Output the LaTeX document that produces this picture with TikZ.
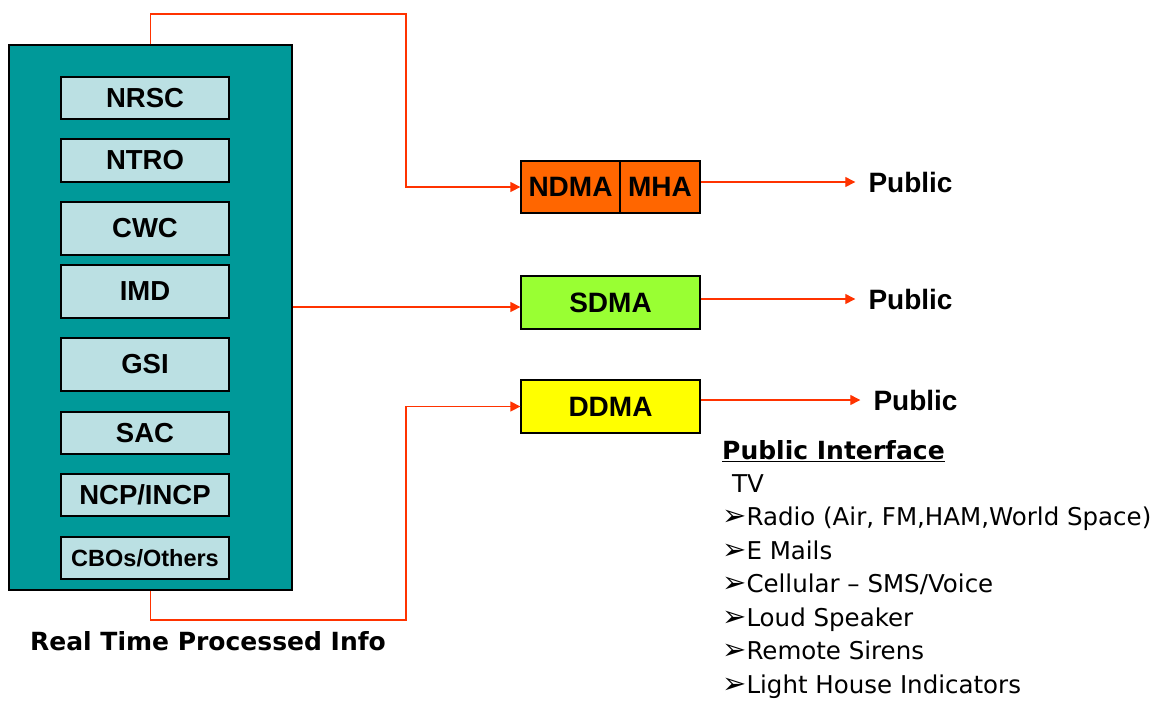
\documentclass[tikz,border=0pt]{standalone}
\usepackage{fontspec}
\setmainfont{Liberation Sans}
\newfontfamily\listfont{DejaVu Sans}
\usetikzlibrary{arrows.meta, positioning}
\definecolor{tealbox}{HTML}{009999}
\definecolor{agency}{HTML}{BBE0E3}
\definecolor{ndmaorange}{HTML}{FF6600}
\definecolor{sdmagreen}{HTML}{99FF33}
\definecolor{ddmayellow}{HTML}{FFFF00}
\definecolor{linkred}{HTML}{FF3300}
\tikzset{
  agencybox/.style={draw=black, line width=1.3pt, fill=agency, minimum width=168pt, inner sep=0pt, font=\fontsize{27.5}{30}\selectfont\bfseries},
  authbox/.style={draw=black, line width=1.3pt, minimum height=52pt, inner sep=0pt, font=\fontsize{28}{30}\selectfont\bfseries},
  link/.style={draw=linkred, line width=1.3pt, -{Triangle[length=10pt,width=10pt]}},
  pub/.style={inner xsep=13pt, inner ysep=0pt, font=\fontsize{28}{30}\selectfont\bfseries}
}
\newcommand{\arrowbullet}{{\fontsize{29}{30}\selectfont ➢}}
\begin{document}
\begin{tikzpicture}[x=1pt, y=-1pt]
\useasboundingbox (0,0) rectangle (1158,702);

\node[draw=black, line width=1.3pt, fill=tealbox, minimum width=283pt, minimum height=545pt, inner sep=0pt] (rtpi) at (150.5,317.5) {};

\node[agencybox, minimum height=42pt] (nrsc) at (145,98) {NRSC};
\node[agencybox, minimum height=43pt] (ntro) at (145,160.5) {NTRO};
\node[agencybox, minimum height=53pt] (cwc) at (145,228.5) {CWC};
\node[agencybox, minimum height=53pt] (imd) at (145,291.5) {IMD};
\node[agencybox, minimum height=53pt] (gsi) at (145,364.5) {GSI};
\node[agencybox, minimum height=42pt] (sac) at (145,433) {SAC};
\node[agencybox, minimum height=42pt] (ncp) at (145,495) {NCP/INCP};
\node[agencybox, minimum height=42pt, font=\fontsize{23.5}{26}\selectfont\bfseries] (cbo) at (145,558) {CBOs/Others};

\node[font=\fontsize{25}{28}\selectfont\bfseries\listfont] (rtpilbl) at (208,641) {Real Time Processed Info};

\node[authbox, fill=ndmaorange, minimum width=99pt] (ndma) at (570.5,187) {NDMA};
\node[authbox, fill=ndmaorange, minimum width=80pt] (mha) at (660,187) {MHA};
\node[authbox, fill=sdmagreen, minimum width=179pt, minimum height=53pt] (sdma) at (610.5,302.5) {SDMA};
\node[authbox, fill=ddmayellow, minimum width=179pt, minimum height=53pt] (ddma) at (610.5,406.5) {DDMA};

\node[pub] (pub1) at (910.5,182) {Public};
\node[pub] (pub2) at (910.5,299) {Public};
\node[pub] (pub3) at (915.5,400) {Public};

\coordinate (top) at (406,14);
\coordinate (bot) at (406,620);

\draw[link] (rtpi.north) |- (top) |- (ndma.west);
\draw[link] (rtpi.east |- 0,307) -- (sdma.west |- 0,307);
\draw[link] (rtpi.south) |- (bot) |- (ddma.west);

\draw[link] (mha.east |- pub1) -- (pub1.west);
\draw[link] (sdma.east |- pub2) -- (pub2.west);
\draw[link] (ddma.east |- pub3) -- (pub3.west);

\node[anchor=west, inner sep=0pt, font=\fontsize{25}{28}\selectfont\bfseries\listfont] (pif) at (722,451) {\underline{Public Interface}};
\node[anchor=north west, inner sep=0pt, align=left, font=\fontsize{24.5}{33.5}\selectfont\listfont] (pilist) at (722,474) {%
\hspace{10pt}TV\\
\arrowbullet Radio (Air, FM,HAM,World Space)\\
\arrowbullet E Mails\\
\arrowbullet Cellular – SMS/Voice\\
\arrowbullet Loud Speaker\\
\arrowbullet Remote Sirens\\
\arrowbullet Light House Indicators};
\end{tikzpicture}
\end{document}
